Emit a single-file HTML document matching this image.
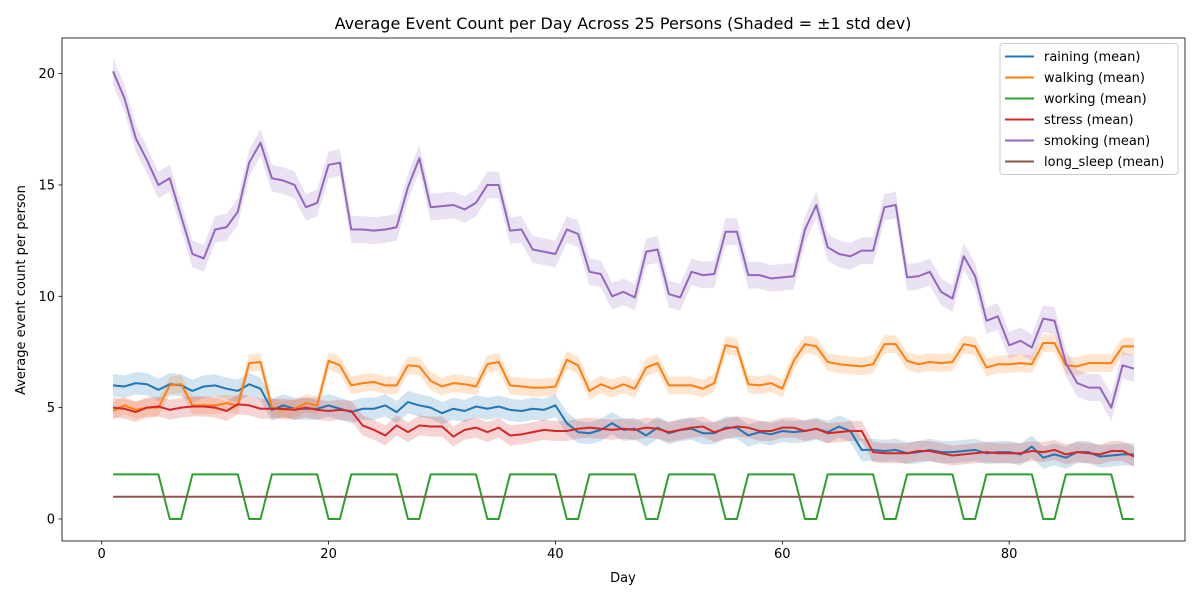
<!DOCTYPE html>
<html><head><meta charset="utf-8"><style>
body{margin:0;background:#fff;font-family:"Liberation Sans","DejaVu Sans",sans-serif}
svg text{font-family:"DejaVu Sans","Liberation Sans",sans-serif}
</style></head><body>
<svg id="chart" width="1200" height="600" xmlns="http://www.w3.org/2000/svg">
<rect width="1200" height="600" fill="#fff"/>
<text x="623" y="29" text-anchor="middle" font-size="16">Average Event Count per Day Across 25 Persons (Shaded = ±1 std dev)</text>
<text x="623" y="582" text-anchor="middle" font-size="13">Day</text>
<text transform="translate(25,290) rotate(-90)" text-anchor="middle" font-size="13">Average event count per person</text>
<g id="bands"></g><g id="lines"></g><g id="axes"></g>
<g>
<rect x="1000" y="43.5" width="178" height="131" fill="#fff" fill-opacity="0.8" stroke="#ccc" rx="3"/>
<g id="legend-entries"></g>
</g>
</svg>
<script>
const days=[];for(let d=1;d<=91;d++)days.push(d);
const seriesNames=["raining (mean)","walking (mean)","working (mean)","stress (mean)","smoking (mean)","long_sleep (mean)"];
const colors=["#1f77b4","#ff7f0e","#2ca02c","#d62728","#9467bd","#8c564b"];
const raining=[6.0,5.95,6.1,6.05,5.8,6.05,6.0,5.75,5.95,6.0,5.85,5.75,6.05,5.85,4.9,5.1,4.95,4.95,4.95,5.1,4.95,4.8,4.95,4.95,5.1,4.8,5.25,5.1,5.0,4.75,4.95,4.85,5.05,4.95,5.05,4.9,4.85,4.95,4.9,5.1,4.3,3.9,3.85,4.0,4.3,4.0,4.05,3.75,4.1,3.85,4.0,4.05,3.85,3.85,4.1,4.1,3.75,3.9,3.8,3.95,3.9,3.95,4.05,3.9,4.15,3.95,3.1,3.1,3.05,3.1,2.95,3.0,3.1,3.0,3.0,3.05,3.1,2.95,3.0,3.0,2.9,3.25,2.75,2.9,2.75,3.0,3.0,2.8,2.85,2.9,2.9];
const walking=[4.85,5.1,4.9,5.0,5.0,6.0,6.05,5.1,5.1,5.1,5.2,5.1,7.0,7.05,5.0,4.9,4.95,5.2,5.1,7.1,6.9,6.0,6.1,6.15,6.0,6.0,6.9,6.85,6.2,5.95,6.1,6.05,5.95,6.95,7.05,6.0,5.95,5.9,5.9,5.95,7.15,6.9,5.75,6.05,5.85,6.05,5.85,6.8,7.0,6.0,6.0,6.0,5.85,6.1,7.8,7.7,6.05,6.0,6.1,5.85,7.1,7.85,7.75,7.05,6.95,6.9,6.85,6.95,7.85,7.85,7.1,6.95,7.05,7.0,7.05,7.85,7.75,6.8,6.95,6.95,7.0,6.95,7.9,7.9,6.9,6.85,7.0,7.0,7.0,7.75,7.75];
const working=[2,2,2,2,2,0,0,2,2,2,2,2,0,0,2,2,2,2,2,0,0,2,2,2,2,2,0,0,2,2,2,2,2,0,0,2,2,2,2,2,0,0,2,2,2,2,2,0,0,2,2,2,2,2,0,0,2,2,2,2,2,0,0,2,2,2,2,2,0,0,2,2,2,2,2,0,0,2,2,2,2,2,0,0,2,2,2,2,2,0,0];
const stress=[5.0,4.95,4.8,5.0,5.05,4.9,5.0,5.05,5.05,5.0,4.85,5.15,5.1,4.95,4.95,4.95,4.9,5.0,4.9,4.85,4.9,4.85,4.2,4.0,3.75,4.2,3.9,4.2,4.15,4.15,3.7,4.0,4.1,3.9,4.1,3.75,3.8,3.9,4.0,3.95,3.95,4.05,4.1,4.05,4.0,4.05,4.0,4.1,4.05,3.9,4.0,4.1,4.15,3.9,4.05,4.15,4.1,3.95,3.95,4.1,4.1,3.95,4.05,3.85,3.9,3.95,3.95,3.0,2.95,2.95,2.95,3.05,3.05,2.95,2.85,2.9,2.95,3.0,2.95,2.95,2.95,3.05,3.0,3.1,2.9,3.0,2.95,2.9,3.05,3.05,2.8];
const smoking=[20.1,18.9,17.1,16.1,15.0,15.3,13.6,11.9,11.7,13.0,13.1,13.8,16.0,16.9,15.3,15.2,15.0,14.0,14.2,15.9,16.0,13.0,13.0,12.95,13.0,13.1,14.9,16.2,14.0,14.05,14.1,13.9,14.2,15.0,15.0,12.95,13.0,12.1,12.0,11.9,13.0,12.8,11.1,11.0,10.0,10.2,9.95,12.0,12.1,10.1,9.95,11.1,10.95,11.0,12.9,12.9,10.95,10.95,10.8,10.85,10.9,13.0,14.1,12.2,11.9,11.8,12.05,12.05,14.0,14.1,10.85,10.9,11.1,10.2,9.9,11.8,10.9,8.9,9.1,7.8,8.0,7.7,9.0,8.9,7.0,6.1,5.9,5.9,5.0,6.9,6.75];
const longSleep=[1,1,1,1,1,1,1,1,1,1,1,1,1,1,1,1,1,1,1,1,1,1,1,1,1,1,1,1,1,1,1,1,1,1,1,1,1,1,1,1,1,1,1,1,1,1,1,1,1,1,1,1,1,1,1,1,1,1,1,1,1,1,1,1,1,1,1,1,1,1,1,1,1,1,1,1,1,1,1,1,1,1,1,1,1,1,1,1,1,1,1];
const stdDev=[0.5,0.4,0,0.45,0.6,0];
const xTicks=[0,20,40,60,80];
const yTicks=[0,5,10,15,20];

const L=62,R=1185,T=38,B=541,X0=-3.5,X1=95.5,Y0=-0.99,Y1=21.6;
const sx=d=>L+(d-X0)/(X1-X0)*(R-L);
const sy=v=>B-(v-Y0)/(Y1-Y0)*(B-T);
const NS="http://www.w3.org/2000/svg";
function mk(tag,attrs,parent){const e=document.createElementNS(NS,tag);for(const k in attrs)e.setAttribute(k,attrs[k]);parent.appendChild(e);return e;}
const all=[raining,walking,working,stress,smoking,longSleep];
const keys=["raining","walking","working","stress","smoking","long-sleep"];
const bands=document.getElementById('bands'),lines=document.getElementById('lines');
all.forEach((s,i)=>{
  if(stdDev[i]>0){
    let up=s.map((v,j)=>sx(days[j])+','+sy(v+stdDev[i]));
    let dn=s.map((v,j)=>sx(days[j])+','+sy(v-stdDev[i])).reverse();
    const p=mk('polygon',{points:up.concat(dn).join(' '),fill:colors[i],'fill-opacity':0.2},bands);
    
    
  }
});
all.forEach((s,i)=>{
  const pl=mk('polyline',{points:s.map((v,j)=>sx(days[j])+','+sy(v)).join(' '),fill:'none',stroke:colors[i],'stroke-width':2,'stroke-linejoin':'round'},lines);
  
  
});
const ax=document.getElementById('axes');
const frame=mk('rect',{x:L,y:T,width:R-L,height:B-T,fill:'none',stroke:'#000','stroke-width':0.8},ax);


xTicks.forEach(t=>{
  mk('line',{x1:sx(t),x2:sx(t),y1:B,y2:B+3.5,stroke:'#000','stroke-width':0.8},ax);
  const tx=mk('text',{x:sx(t),y:B+17,'text-anchor':'middle','font-size':13},ax);
  tx.textContent=t;
  
  
});
yTicks.forEach(t=>{
  mk('line',{x1:L-3.5,x2:L,y1:sy(t),y2:sy(t),stroke:'#000','stroke-width':0.8},ax);
  const tx=mk('text',{x:L-7,y:sy(t)+4.5,'text-anchor':'end','font-size':13},ax);
  tx.textContent=t;
  
  
});
const lg=document.getElementById('legend-entries');
seriesNames.forEach((n,i)=>{
  const y=56.5+i*21;
  const g=mk('g',{},lg);
  
  
  mk('line',{x1:1005,x2:1034,y1:y,y2:y,stroke:colors[i],'stroke-width':2},g);
  const t=mk('text',{x:1044,y:y+4.5,'font-size':13},g);
  t.textContent=n;
});
</script>
</body></html>
